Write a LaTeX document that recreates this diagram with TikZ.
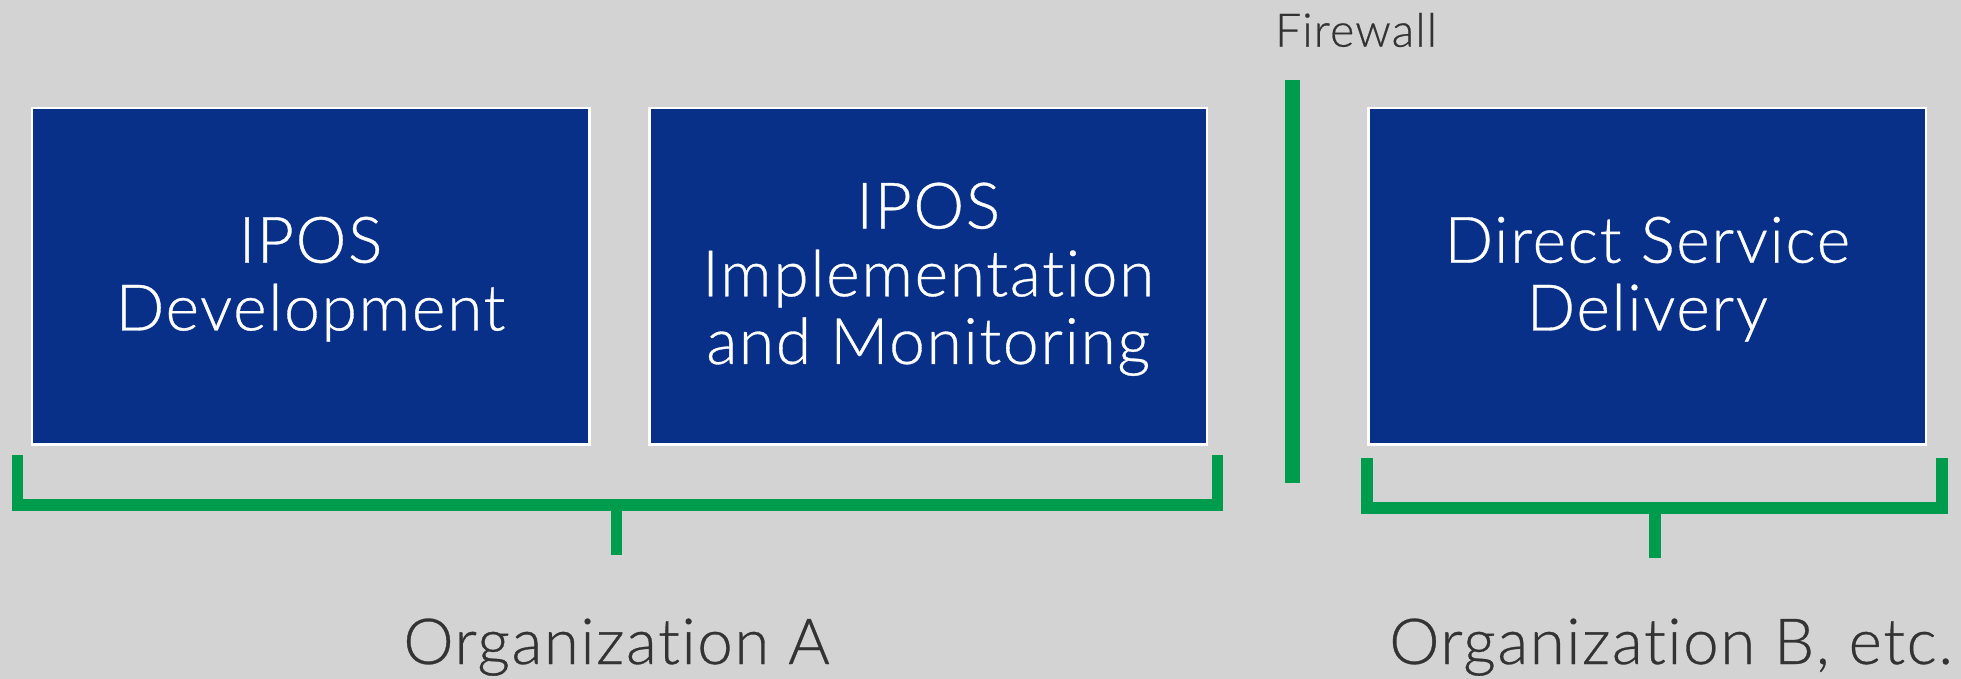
\documentclass[tikz,border=0pt]{standalone}
\usepackage{fontspec}
\IfFontExistsTF{Lato Light}
  {\setmainfont{Lato Light}[Ligatures=NoCommon, LetterSpace=2.5, FakeBold=0.5]}
  {\setmainfont{Lato}[Ligatures=NoCommon, LetterSpace=2]}
\definecolor{bg}{RGB}{211,211,211}
\definecolor{boxblue}{RGB}{8,48,136}
\definecolor{brgreen}{RGB}{0,156,77}
\definecolor{txtgray}{RGB}{51,51,51}
\begin{document}
\begin{tikzpicture}[x=0.5pt,y=-0.5pt,
  unitbox/.style={draw=white, line width=1.15pt, fill=boxblue,
    minimum width=278.85pt, minimum height=168.1pt, inner sep=0pt, outer sep=0pt},
  boxtext/.style={text=white, inner sep=0pt, align=center,
    font=\fontsize{32.1}{33.85}\selectfont},
  bracket/.style={draw=brgreen, line width=5.85pt, line cap=butt, line join=miter},
  wall/.style={draw=brgreen, line width=7.9pt, line cap=butt},
  orglabel/.style={text=txtgray, inner sep=0pt, font=\fontsize{31.8}{36}\selectfont},
  walllabel/.style={text=txtgray, inner sep=0pt, font=\fontsize{23.2}{28}\selectfont}]
\useasboundingbox (0,0) rectangle (1961,679);
\fill[bg] (0,0) rectangle (1961,679);

\node[unitbox] (dev) at (310.5,276.25) {};
\node[unitbox] (impl) at (928.2,276.25) {};
\node[unitbox] (dsd) at (1647.2,276.25) {};
\node[boxtext] (devtext) at ([yshift=-1.5pt]dev.center) {IPOS\\Development};
\node[boxtext] (impltext) at ([yshift=-1.5pt]impl.center) {IPOS\\Implementation\\and Monitoring};
\node[boxtext] (dsdtext) at ([yshift=-1.5pt]dsd.center) {Direct Service\\Delivery};

% firewall
\coordinate (fwtop) at (1292.5,80);
\coordinate (fwbot) at (1292.5,483.3);
\draw[wall] (fwtop) -- (fwbot);
\node[walllabel, anchor=base] (fwlabel) at (1356,46.7) {Firewall};

% bracket A
\coordinate (aL) at (17.5,455);
\coordinate (aR) at (1217.5,455);
\coordinate (aStem) at (616.5,505.2);
\draw[bracket] (aL) -- (17.5,505.2) -- (1217.5,505.2) -- (aR);
\draw[bracket] (aStem) -- (616.5,555);

% bracket B
\coordinate (bL) at (1367.3,458.3);
\coordinate (bR) at (1942,458.3);
\coordinate (bStem) at (1654.7,508);
\draw[bracket] (bL) -- (1367.3,508) -- (1942,508) -- (bR);
\draw[bracket] (bStem) -- (1654.7,558);

\node[orglabel, anchor=base] (orgA) at (616.5,664) {Organization A};
\node[orglabel, anchor=base] (orgB) at (1671,664) {Organization B, etc.};
\end{tikzpicture}
\end{document}
